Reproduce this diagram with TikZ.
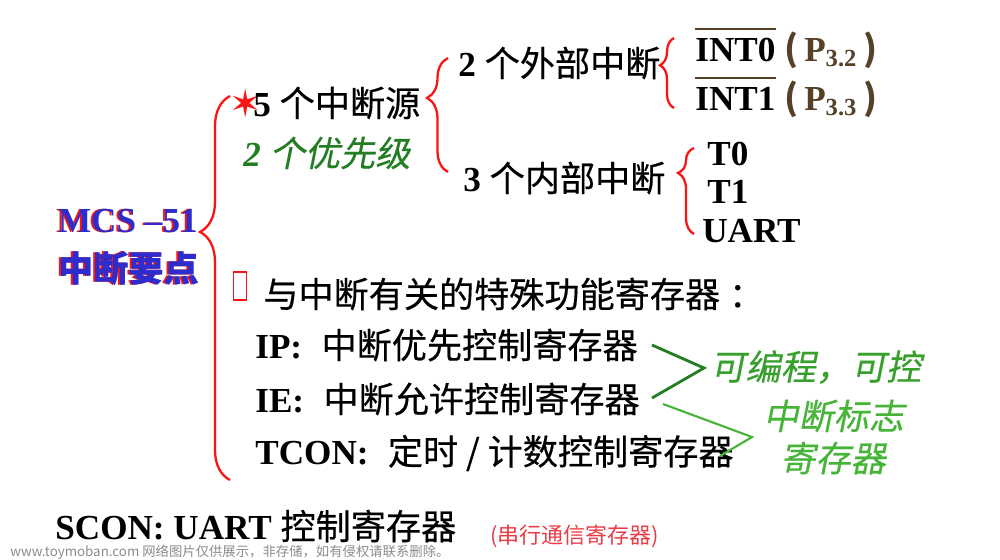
\documentclass[tikz,border=0pt]{standalone}
\usepackage{fontspec}
\setmainfont{Liberation Serif}
\newfontfamily\cjk[FakeBold=0.4]{Noto Sans CJK SC}
\newfontfamily\cjkplain{Noto Sans CJK SC}
\newfontfamily\cjkit[FakeSlant=0.2, FakeBold=0.4]{Noto Sans CJK SC}
\newfontfamily\symfont{DejaVu Sans}
\usepackage{xcolor}
\usetikzlibrary{positioning, decorations.pathreplacing}
\definecolor{brred}{RGB}{250, 20, 20}
\definecolor{mcsblue}{RGB}{45, 45, 205}
\definecolor{darkgrn}{RGB}{35, 125, 35}
\definecolor{midgrn}{RGB}{55, 160, 45}
\definecolor{litgrn}{RGB}{70, 180, 55}
\definecolor{pbrown}{RGB}{85, 65, 40}
\definecolor{notered}{RGB}{235, 60, 70}
\definecolor{wmgray}{RGB}{140, 140, 140}
\newcommand{\zh}[1]{{\cjk\mdseries #1}}
\newcommand{\regsep}{\hspace{0.55em}}
\tikzset{
    txt/.style={inner sep=0pt, anchor=west, font=\fontsize{20}{24}\selectfont\bfseries},
    mcstxt/.style={inner sep=0pt, anchor=east, font=\fontsize{20}{24}\selectfont\bfseries},
    grntxt/.style={txt, text=darkgrn, font=\fontsize{20}{24}\selectfont\bfseries\itshape},
    progtxt/.style={txt, text=midgrn, font=\fontsize{20}{24}\selectfont\cjkit},
    flagtxt/.style={txt, text=litgrn, font=\fontsize{20}{24}\selectfont\cjkit},
    ptxt/.style={txt, text=pbrown},
    brc/.style={brred, line width=1.3pt, decorate},
    tofu/.style={draw=brred, line width=0.8pt, minimum width=12.5*0.02cm, minimum height=28*0.02cm, inner sep=0pt},
    grnline/.style={darkgrn, line width=1.6pt},
    lgrnline/.style={litgrn, line width=1.2pt}
}

\begin{document}
\begin{tikzpicture}[x=0.02cm, y=-0.02cm]
    \useasboundingbox[fill=white] (0,0) rectangle (1000,559);

    % main title with red shadow
    \node[mcstxt, text=brred] (mcsR) at (196,221) {MCS –51};
    \node[mcstxt, text=mcsblue] (mcs) at (198,221) {MCS –51};
    \node[mcstxt, text=brred] (keyR) at (197,268) {{\cjk\bfseries 中断要点}};
    \node[mcstxt, text=mcsblue] (key) at (199,268) {{\cjk\bfseries 中断要点}};

    % interrupt sources
    \node[txt, text=brred, font=\fontsize{22}{22}\selectfont\symfont] (star) at (229,103) {✶};
    \node[txt] (five) at (253,103) {5 \zh{个中断源}};
    \node[grntxt] (prio) at (243,153) {2 {\cjkit\mdseries 个优先级}};
    \node[txt] (ext) at (458,63) {2 \zh{个外部中断}};
    \node[txt] (int) at (463,178) {3 \zh{个内部中断}};

    \node[txt] (int0) at (695,50) {INT0};
    \node[ptxt] (p32) at (784,50) {{\cjkplain (}\,P\textsubscript{3.2}\,{\cjkplain )}};
    \node[txt] (int1) at (695,99) {INT1};
    \node[ptxt] (p33) at (784,99) {{\cjkplain (}\,P\textsubscript{3.3}\,{\cjkplain )}};
    \draw[pbrown, line width=1.2pt] ([yshift=5pt]int0.north west) -- ([yshift=5pt]int0.north east);
    \draw[pbrown, line width=1.2pt] ([yshift=5pt]int1.north west) -- ([yshift=5pt]int1.north east);

    \node[txt] (t0) at (707,154) {T0};
    \node[txt] (t1) at (707,192) {T1};
    \node[txt] (uart) at (702,231) {UART};

    % braces
    \coordinate (b1bot) at (230,480);
    \coordinate (b1top) at (230,96);
    \coordinate (b2bot) at (448,172);
    \coordinate (b2top) at (448,58);
    \coordinate (b3bot) at (674,108);
    \coordinate (b3top) at (674,38);
    \coordinate (b4bot) at (694,234);
    \coordinate (b4top) at (694,148);
    \draw[brc, decoration={brace, amplitude=0.6cm, aspect=0.646}] (b1bot) -- (b1top);
    \draw[brc, decoration={brace, amplitude=0.42cm, aspect=0.65}] (b2bot) -- (b2top);
    \draw[brc, decoration={brace, amplitude=0.28cm, aspect=0.61}] (b3bot) -- (b3top);
    \draw[brc, decoration={brace, amplitude=0.32cm, aspect=0.71}] (b4bot) -- (b4top);

    % special function registers
    \node[tofu] (box) at (240,286) {};
    \node[txt] (sfr) at (263,294) {\zh{与中断有关的特殊功能寄存器}\ \zh{：}};
    \node[txt] (ip) at (255,345) {IP:\regsep\zh{中断优先控制寄存器}};
    \node[txt] (ie) at (255,399) {IE:\regsep\zh{中断允许控制寄存器}};
    \node[txt] (tcon) at (255,453) {TCON:\regsep\zh{定时 / 计数控制寄存器}};

    \node[progtxt] (prog) at (710,367) {可编程，可控};
    \node[flagtxt] (flag) at (763,416) {中断标志};
    \node[flagtxt] (flagreg) at (780,458) {寄存器};

    \coordinate (ipend) at (652,345);
    \coordinate (progtip) at (704,368);
    \coordinate (ieend) at (652,398);
    \draw[grnline] (ipend) -- (progtip) -- (ieend);
    \coordinate (iestart) at (663,404);
    \coordinate (flagtip) at (752,437);
    \coordinate (tconend) at (720,456);
    \draw[lgrnline] (iestart) -- (flagtip) -- (tconend);

    % bottom line
    \node[txt] (scon) at (55,526) {SCON: UART \zh{控制寄存器}};
    \node[txt, text=notered, font=\fontsize{12.5}{14}\selectfont\cjkplain] (serial) at (490,536) {(串行通信寄存器)};
    \node[txt, text=wmgray, font=\fontsize{7.6}{9}\selectfont\cjkplain] (wmark) at (10,552) {www.toymoban.com 网络图片仅供展示，非存储，如有侵权请联系删除。};
\end{tikzpicture}
\end{document}
